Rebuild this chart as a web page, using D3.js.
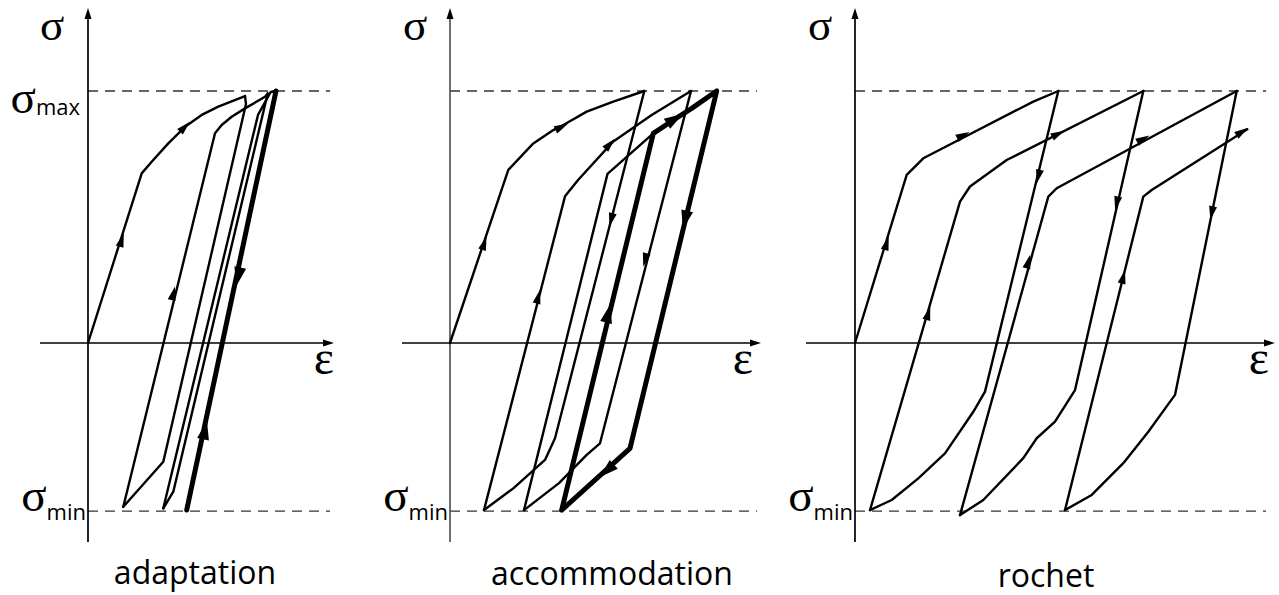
<!DOCTYPE html>
<html>
<head>
<meta charset="utf-8">
<script src="https://cdn.jsdelivr.net/npm/d3@7"></script>
<style>
  body { margin: 0; background: #fff; }
  svg { display: block; }
</style>
</head>
<body>
<svg id="chart" width="1279" height="595"></svg>
<script>
// stress levels (sigma normalised to sigma_max = 1)
var sigmaMax = 1, sigmaMin = -0.667;

// ---- adaptation: [strain, stress] points in travel order
var adaptLoad1 = [[0,0],[0.537,0.673],[0.637,0.719],[0.803,0.792],[0.97,0.858],[1.137,0.905],[1.303,0.938],[1.57,0.98]];
var adaptUnload1 = [[1.57,0.98],[1.58,0.948],[0.753,-0.471],[0.353,-0.65]];
var adaptLoad2 = [[0.353,-0.65],[1.27,0.832],[1.337,0.865],[1.437,0.898],[1.57,0.931],[1.77,0.977],[1.797,0.99]];
var adaptUnload2 = [[1.797,0.99],[0.853,-0.59],[0.753,-0.656]];
var adaptLoad3 = [[0.753,-0.656],[1.70,0.905],[1.827,0.996],[1.88,1.0]];
var adaptStable = [[0.987,-0.663],[1.88,1.0]];

// ---- accommodation
var accLoad1 = [[0,0],[0.583,0.687],[0.833,0.792],[1.033,0.845],[1.133,0.865],[1.367,0.918],[1.633,0.958],[1.943,1.0]];
var accUnload1 = [[1.943,1.0],[1.05,-0.378],[0.95,-0.464],[0.633,-0.577],[0.34,-0.663]];
var accLoad2 = [[0.34,-0.663],[1.15,0.582],[1.283,0.648],[1.633,0.8],[2.017,0.905],[2.41,1.0]];
var accUnload2 = [[2.41,1.0],[1.50,-0.398],[1.367,-0.444],[1.09,-0.556],[0.74,-0.663]];
var accLoad3 = [[0.74,-0.663],[1.575,0.671],[2.033,0.832],[2.25,0.889],[2.417,0.931],[2.667,1.0]];
var accStable = [[1.117,-0.663],[2.033,0.832],[2.25,0.889],[2.417,0.931],[2.667,1.0],[1.80,-0.418],[1.117,-0.663]];

// ---- rochet (ratcheting)
var rocLoad1 = [[0,0],[0.517,0.667],[0.683,0.733],[1.783,0.958],[2.033,1.0]];
var rocUnload1 = [[2.033,1.0],[1.30,-0.193],[1.183,-0.273],[0.90,-0.438],[0.633,-0.537],[0.367,-0.623],[0.15,-0.663]];
var rocLoad2 = [[0.15,-0.663],[1.05,0.561],[1.15,0.621],[1.517,0.726],[2.883,1.0]];
var rocUnload2 = [[2.883,1.0],[2.20,-0.187],[2.0,-0.312],[1.817,-0.378],[1.683,-0.457],[1.283,-0.623],[1.05,-0.683]];
var rocLoad3 = [[1.05,-0.683],[1.933,0.581],[2.017,0.614],[3.817,1.0]];
var rocUnload3 = [[3.817,1.0],[3.20,-0.206],[2.933,-0.352],[2.683,-0.477],[2.367,-0.603],[2.10,-0.663]];
var rocLoad4 = [[2.10,-0.663],[2.883,0.581],[2.967,0.607],[3.923,0.848]];

// arrows: [path, strain, stress, reversed, big]
var adaptArrows = [
  [adaptLoad1, 0.337, 0.409, false, false],
  [adaptLoad1, 0.97, 0.858, false, false],
  [adaptLoad2, 0.853, 0.197, false, false],
  [adaptStable, 1.503, 0.263, true, true],
  [adaptStable, 1.17, -0.345, false, true]
];
var accArrows = [
  [accLoad1, 0.343, 0.396, false, false],
  [accLoad1, 1.117, 0.858, false, false],
  [accUnload1, 1.611, 0.488, false, false],
  [accLoad2, 0.883, 0.184, false, false],
  [accLoad2, 1.60, 0.79, false, false],
  [accUnload2, 1.95, 0.329, false, false],
  [accStable, 1.583, 0.118, false, true],
  [accStable, 2.25, 0.89, false, true],
  [accStable, 2.35, 0.488, false, true],
  [accStable, 1.567, -0.507, false, true]
];
var rocArrows = [
  [rocLoad1, 0.317, 0.396, false, false],
  [rocLoad1, 1.083, 0.825, false, false],
  [rocUnload1, 1.833, 0.66, false, false],
  [rocLoad2, 0.733, 0.118, false, false],
  [rocLoad2, 2.033, 0.83, false, false],
  [rocUnload2, 2.617, 0.554, false, false],
  [rocLoad3, 1.733, 0.323, false, false],
  [rocLoad3, 2.883, 0.81, false, false],
  [rocUnload3, 3.567, 0.515, false, false],
  [rocLoad4, 2.683, 0.263, false, false],
  [rocLoad4, 3.873, 0.839, false, false]
];

var thin = 2.4, thick = 5;

var panels = [
  { label: "adaptation", ox: 88, left: 40, right: 334, dashEnd: 330, labelX: 195, labelY: 584,
    sigX: 40, epsX: 334, showMax: true, yAxisColor: "#000",
    paths: [[adaptLoad1, thin], [adaptUnload1, thin], [adaptLoad2, thin], [adaptUnload2, thin], [adaptLoad3, thin], [adaptStable, thick]],
    arrows: adaptArrows },
  { label: "accommodation", ox: 450, left: 402, right: 761, dashEnd: 757, labelX: 612, labelY: 585,
    sigX: 403, epsX: 753, showMax: false, yAxisColor: "#555",
    paths: [[accLoad1, thin], [accUnload1, thin], [accLoad2, thin], [accUnload2, thin], [accLoad3, thin], [accStable, thick]],
    arrows: accArrows },
  { label: "rochet", ox: 855, left: 806, right: 1275, dashEnd: 1266, labelX: 1046, labelY: 587,
    sigX: 808, epsX: 1269, showMax: false, yAxisColor: "#000",
    paths: [[rocLoad1, thin], [rocUnload1, thin], [rocLoad2, thin], [rocUnload2, thin], [rocLoad3, thin], [rocUnload3, thin], [rocLoad4, thin]],
    arrows: rocArrows }
];

var svg = d3.select("#chart");

var y = d3.scaleLinear().domain([0, sigmaMax]).range([343, 91]);
var axisTop = 8, axisBottom = 542;
var serif = "'Liberation Serif', 'DejaVu Serif', serif";
var sans = "'Open Sans', 'DejaVu Sans', sans-serif";

function arrowHead(g, tip, u, len, wid) {
  var bx = tip[0] - u[0] * len, by = tip[1] - u[1] * len;
  var nx = -u[1], ny = u[0];
  g.append("path")
      .attr("d", "M" + tip[0] + "," + tip[1] +
                 "L" + (bx + nx * wid / 2) + "," + (by + ny * wid / 2) +
                 "L" + (bx - nx * wid / 2) + "," + (by - ny * wid / 2) + "Z")
      .attr("fill", "#000");
}

panels.forEach(function(p) {
  var x = d3.scaleLinear().domain([0, 1]).range([p.ox, p.ox + 100]);
  var g = svg.append("g");

  // dashed stress limits
  [sigmaMax, sigmaMin].forEach(function(s) {
    g.append("line")
        .attr("x1", p.ox).attr("x2", p.dashEnd)
        .attr("y1", y(s)).attr("y2", y(s))
        .attr("stroke", "#333")
        .attr("stroke-width", 1.3)
        .attr("stroke-dasharray", "10,7");
  });

  // axes
  g.append("line")
      .attr("x1", p.left).attr("x2", p.right - 8)
      .attr("y1", y(0)).attr("y2", y(0))
      .attr("stroke", "#000").attr("stroke-width", 1.6);
  arrowHead(g, [p.right, y(0)], [1, 0], 11, 7);
  g.append("line")
      .attr("x1", x(0)).attr("x2", x(0))
      .attr("y1", axisBottom).attr("y2", axisTop + 8)
      .attr("stroke", p.yAxisColor).attr("stroke-width", 1.7);
  arrowHead(g, [x(0), axisTop], [0, -1], 11, 7);

  // curves
  var line = d3.line()
      .x(function(d) { return x(d[0]); })
      .y(function(d) { return y(d[1]); });

  g.selectAll("path.curve")
    .data(p.paths)
    .enter().append("path")
      .attr("class", "curve")
      .attr("d", function(d) { return line(d[0]); })
      .attr("fill", "none")
      .attr("stroke", "#000")
      .attr("stroke-width", function(d) { return d[1]; })
      .attr("stroke-linejoin", "round")
      .attr("stroke-linecap", "round");

  // arrows along the curves
  p.arrows.forEach(function(a) {
    var pts = a[0].map(function(d) { return [x(d[0]), y(d[1])]; });
    var cx = x(a[1]), cy = y(a[2]);
    var best = null, bd = Infinity;
    for (var i = 0; i < pts.length - 1; i++) {
      var ax = pts[i][0], ay = pts[i][1], dx = pts[i + 1][0] - ax, dy = pts[i + 1][1] - ay;
      var t = Math.max(0, Math.min(1, ((cx - ax) * dx + (cy - ay) * dy) / (dx * dx + dy * dy)));
      var ddx = ax + t * dx - cx, ddy = ay + t * dy - cy;
      var dist = ddx * ddx + ddy * ddy;
      if (dist < bd) { bd = dist; best = [dx, dy]; }
    }
    var n = Math.sqrt(best[0] * best[0] + best[1] * best[1]);
    var u = [best[0] / n, best[1] / n];
    if (a[3]) u = [-u[0], -u[1]];
    var len = a[4] ? 19 : 14, wid = a[4] ? 12 : 8;
    arrowHead(g, [cx + u[0] * len / 2, cy + u[1] * len / 2], u, len, wid);
  });

  // labels
  g.append("text")
      .attr("x", p.sigX).attr("y", 40)
      .attr("font-family", serif).attr("font-size", 45)
      .text("σ");
  g.append("text")
      .attr("x", p.epsX).attr("y", 374)
      .attr("text-anchor", "end")
      .attr("font-family", serif).attr("font-size", 48)
      .text("ε");

  var tmin = g.append("text")
      .attr("x", x(0) - 2).attr("y", 511)
      .attr("text-anchor", "end");
  tmin.append("tspan").attr("font-family", serif).attr("font-size", 47).text("σ");
  tmin.append("tspan").attr("font-family", sans).attr("font-size", 22).attr("dy", 9).text("min");

  if (p.showMax) {
    var tmax = g.append("text")
        .attr("x", 80).attr("y", 113)
        .attr("text-anchor", "end");
    tmax.append("tspan").attr("font-family", serif).attr("font-size", 47).text("σ");
    tmax.append("tspan").attr("font-family", sans).attr("font-size", 22).attr("dy", 2).text("max");
  }

  g.append("text")
      .attr("x", p.labelX).attr("y", p.labelY)
      .attr("text-anchor", "middle")
      .attr("font-family", sans).attr("font-size", 32)
      .text(p.label);
});
</script>
</body>
</html>
